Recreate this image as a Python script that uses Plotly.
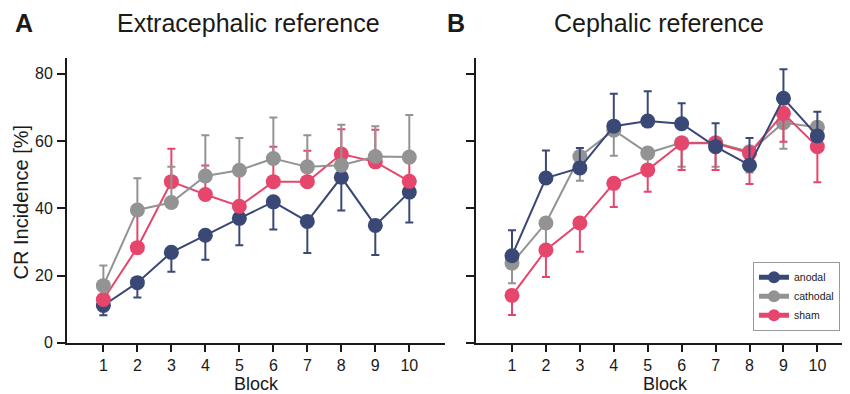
import plotly.graph_objects as go

blocks = [1, 2, 3, 4, 5, 6, 7, 8, 9, 10]

# Panel A: Extracephalic reference
a_anodal = [11.1, 17.9, 26.9, 32.0, 37.0, 41.9, 36.1, 49.2, 34.9, 44.8]
a_anodal_err = [2.9, 4.4, 5.8, 7.3, 8.0, 8.2, 9.4, 9.9, 8.8, 9.0]      # drawn downward
a_cathodal = [17.0, 39.5, 41.7, 49.6, 51.3, 54.8, 52.3, 52.8, 55.4, 55.2]
a_cathodal_err = [6.0, 9.4, 10.6, 12.1, 9.6, 12.2, 9.4, 12.0, 9.0, 12.5]  # drawn upward
a_sham = [12.9, 28.3, 47.9, 44.1, 40.6, 47.9, 47.9, 56.1, 53.8, 48.0]
a_sham_err = [4.0, 11.0, 9.8, 8.6, 10.0, 10.4, 9.2, 7.4, 9.5, 7.5]       # drawn upward

# Panel B: Cephalic reference
b_anodal = [25.9, 49.0, 52.0, 64.4, 65.9, 65.1, 58.3, 52.8, 72.7, 61.5]
b_anodal_err = [7.6, 8.2, 5.9, 9.6, 8.9, 6.1, 7.0, 8.1, 8.6, 7.2]       # drawn upward
b_cathodal = [23.7, 35.6, 55.4, 63.2, 56.4, 59.5, 59.5, 56.8, 65.4, 64.1]
b_cathodal_err = [6.0, 8.0, 7.2, 7.6, 5.0, 7.2, 7.2, 6.2, 7.7, 5.0]     # drawn downward
b_sham = [14.1, 27.6, 35.6, 47.4, 51.4, 59.3, 59.3, 56.4, 68.2, 58.3]
b_sham_err = [5.8, 8.0, 8.5, 7.0, 6.5, 7.9, 7.9, 9.2, 8.4, 10.6]        # drawn downward

names = ["anodal", "cathodal", "sham"]
colors = {"anodal": "#3a4876", "cathodal": "#939393", "sham": "#e6466b"}

fig = go.Figure()


def add(x_axis, y_axis, name, vals, err, up, show):
    zeros = [0] * len(err)
    fig.add_trace(go.Scatter(
        x=blocks, y=vals, name=name, mode="lines+markers",
        xaxis=x_axis, yaxis=y_axis, showlegend=show,
        legendrank={"anodal": 1, "cathodal": 2, "sham": 3}[name],
        line=dict(color=colors[name], width=2),
        marker=dict(color=colors[name], size=15),
        error_y=dict(type="data", symmetric=False,
                     array=err if up else zeros,
                     arrayminus=zeros if up else err,
                     color=colors[name], thickness=2, width=4),
    ))


# Panel A (anodal bottom, sham middle, cathodal top)
add("x", "y", "anodal", a_anodal, a_anodal_err, False, False)
add("x", "y", "sham", a_sham, a_sham_err, True, False)
add("x", "y", "cathodal", a_cathodal, a_cathodal_err, True, False)
# Panel B (cathodal bottom, sham middle, anodal top)
add("x2", "y2", "cathodal", b_cathodal, b_cathodal_err, False, True)
add("x2", "y2", "sham", b_sham, b_sham_err, False, True)
add("x2", "y2", "anodal", b_anodal, b_anodal_err, True, True)

W, H = 850, 394
ybot, ytop = (H - 342.7) / H, (H - 51) / H

FONT = "Liberation Sans, Arial, sans-serif"
axis_common = dict(showline=True, linecolor="#1a1a1a", linewidth=2,
                   ticks="outside", tickwidth=2, tickcolor="#1a1a1a",
                   showgrid=False, zeroline=False,
                   tickfont=dict(family=FONT, size=16, color="#1a1a1a"))
xax = dict(ticklen=7, ticklabelstandoff=0, **axis_common)
yax = dict(ticklen=8, ticklabelstandoff=1, **axis_common)

fig.update_layout(
    width=W, height=H,
    margin=dict(l=0, r=0, t=0, b=0),
    paper_bgcolor="white", plot_bgcolor="white",
    font=dict(family=FONT, color="#1a1a1a"),
    xaxis=dict(domain=[59 / W, 437 / W], range=[-0.07, 11.05], tickvals=blocks,
               anchor="y", **xax),
    yaxis=dict(domain=[ybot, ytop], range=[0, 84.7], tickvals=[0, 20, 40, 60, 80],
               anchor="x", **yax),
    xaxis2=dict(domain=[467.7 / W, 845 / W], range=[-0.07, 11.05], tickvals=blocks,
                anchor="y2", **xax),
    yaxis2=dict(domain=[ybot, ytop], range=[0, 84.7], tickvals=[0, 20, 40, 60, 80],
                showticklabels=False, anchor="x2", **yax),
    legend=dict(x=832 / W, y=(H - 295) / H, xanchor="right", yanchor="middle",
                bordercolor="#999999", borderwidth=1, bgcolor="white",
                itemsizing="constant", tracegroupgap=0, itemwidth=30,
                font=dict(family=FONT, size=10.5, color="#1a1a1a")),
    showlegend=True,
)

ann_font = dict(family=FONT, color="#1a1a1a")
annotations = [
    dict(text="Extracephalic reference", x=241 / W, y=1, yanchor="top", font=dict(size=25, **ann_font)),
    dict(text="Cephalic reference", x=651 / W, y=1, yanchor="top", font=dict(size=25, **ann_font)),
    dict(text="<b>A</b>", x=16 / W, y=1, yanchor="top", font=dict(size=25, **ann_font)),
    dict(text="<b>B</b>", x=448 / W, y=1, yanchor="top", font=dict(size=25, **ann_font)),
    dict(text="Block", x=248 / W, y=(H - 384.5) / H, font=dict(size=18, **ann_font)),
    dict(text="Block", x=657 / W, y=(H - 384.5) / H, font=dict(size=18, **ann_font)),
    dict(text="CR Incidence [%]", x=13 / W, y=(H - 199) / H, textangle=-90,
         font=dict(size=20, **ann_font)),
]
for a in annotations:
    a.setdefault("yanchor", "middle")
    a.update(xref="paper", yref="paper", showarrow=False, xanchor="center", borderpad=0)
fig.update_layout(annotations=annotations)

fig.write_html("out.html")
